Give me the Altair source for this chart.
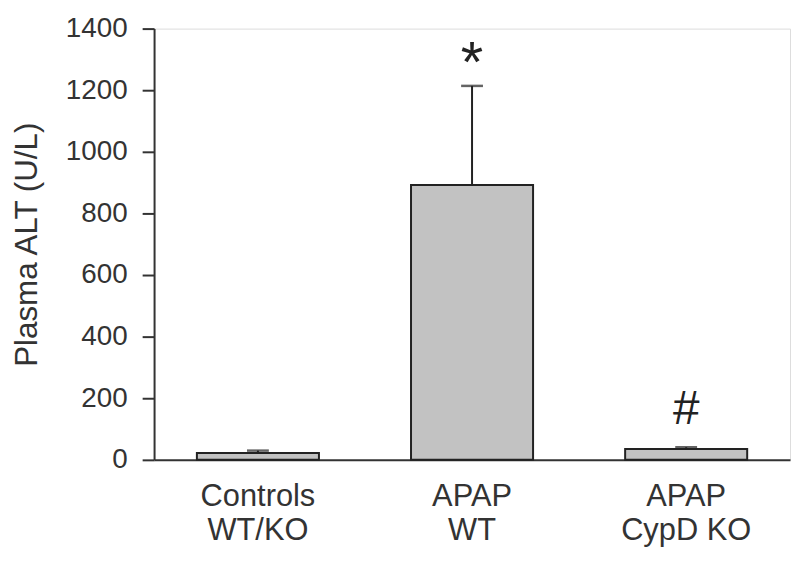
import altair as alt
import pandas as pd

categories = ["Controls|WT/KO", "APAP|WT", "APAP|CypD KO"]
means = [22, 892, 35]
errors = [8, 322, 6]
marks_text = ["", "*", "#"]
marks_y = [None, 1228, 116]
marks_size = [0, 58, 48]

df = pd.DataFrame({"cat": categories, "mean": means, "err": errors})
df["top"] = df["mean"] + df["err"]
ann = pd.DataFrame({"cat": categories[1:], "label": marks_text[1:], "y": marks_y[1:], "size": marks_size[1:]})

FONT = "Liberation Sans"
xenc = alt.X("cat:N", sort=categories,
             scale=alt.Scale(paddingInner=0.43, paddingOuter=0.2),
             axis=alt.Axis(title=None, labelExpr="split(datum.label, '|')",
                           labelFontSize=31, labelFont=FONT, labelColor="#333",
                           labelLineHeight=34, labelPadding=22, labelAngle=0,
                           ticks=False, domainColor="#333", domainWidth=2))
yscale = alt.Scale(domain=[0, 1400], nice=False)

bars = alt.Chart(df).mark_bar(fill="#c2c2c2", stroke="#222", strokeWidth=2).encode(
    x=xenc,
    y=alt.Y("mean:Q", scale=yscale,
            axis=alt.Axis(title="Plasma ALT (U/L)", values=list(range(0, 1401, 200)),
                          format="d",
                          grid=False, tickSize=12, tickWidth=2, tickColor="#333",
                          domainColor="#333", domainWidth=2,
                          labelFontSize=28, labelFont=FONT, labelColor="#333", labelPadding=15,
                          titleFontSize=31.5, titleFont=FONT, titleColor="#333",
                          titleFontWeight="normal", titlePadding=22)),
)

rules = alt.Chart(df).mark_rule(color="#222", strokeWidth=2).encode(
    x=alt.X("cat:N", sort=categories), y=alt.Y("mean:Q", scale=yscale), y2="top:Q")
caps = alt.Chart(df).mark_tick(color="#222", thickness=2.5, size=22).encode(
    x=alt.X("cat:N", sort=categories), y=alt.Y("top:Q", scale=yscale))
texts = alt.Chart(ann).mark_text(font=FONT, color="#222", baseline="alphabetic").encode(
    x=alt.X("cat:N", sort=categories), y=alt.Y("y:Q", scale=yscale),
    text="label:N", size=alt.Size("size:Q", scale=None))

chart = alt.layer(bars, rules, caps, texts).properties(
    width=640, height=434,
    autosize=alt.AutoSizeParams(type="none"),
    padding={"left": 147, "top": 19, "right": 2, "bottom": 90},
).configure_view(stroke=None).configure(background="white")

chart.save("out.html", embed_options={"renderer": "svg", "actions": False})
